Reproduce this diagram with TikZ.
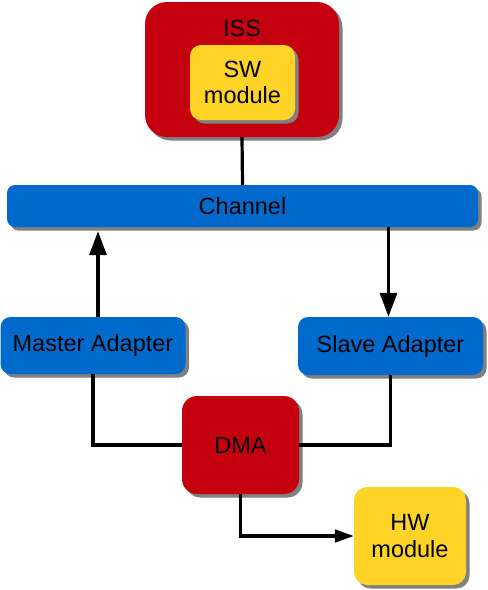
\documentclass[tikz,border=0pt]{standalone}
\usepackage{fontspec}
\setmainfont{Liberation Sans}
\usetikzlibrary{shadows,arrows.meta}
\definecolor{boxred}{RGB}{196,0,15}
\definecolor{boxyellow}{RGB}{255,212,38}
\definecolor{boxblue}{RGB}{0,106,204}
\definecolor{shadowgray}{RGB}{128,128,128}
\tikzset{
  box/.style={draw=none, inner sep=0pt, align=center,
    font=\fontsize{23.5}{26.5}\selectfont,
    drop shadow={shadow xshift=3.5pt, shadow yshift=-3.5pt, fill=shadowgray, opacity=1}},
  redbox/.style={box, fill=boxred},
  yellowbox/.style={box, fill=boxyellow},
  bluebox/.style={box, fill=boxblue},
  wire/.style={line width=3.2pt},
  bigarrow/.style={wire, -{Triangle[length=24pt,width=17pt]}},
  smallarrow/.style={wire, -{Triangle[length=19pt,width=12.5pt]}},
  lbl/.style={font=\fontsize{23.5}{26.5}\selectfont, inner sep=0pt}
}
\begin{document}
\begin{tikzpicture}[x=1pt,y=-1pt]
\useasboundingbox (0,0) rectangle (488,590);
\node[redbox, minimum width=194pt, minimum height=135pt, rounded corners=22pt] (iss) at (242,69.5) {};
\node[lbl] (isslbl) at (242,28) {ISS};
\node[yellowbox, minimum width=105pt, minimum height=75pt, rounded corners=11pt] (sw) at (242.5,82.5) {SW\\module};
\node[bluebox, minimum width=471pt, minimum height=42pt, rounded corners=8pt] (channel) at (242.5,206) {Channel};
\node[bluebox, minimum width=185pt, minimum height=57pt, rounded corners=10pt] (master) at (93,345.5) {Master Adapter};
\node[bluebox, minimum width=185pt, minimum height=58pt, rounded corners=10pt] (slave) at (390.5,346) {Slave Adapter};
\node[redbox, minimum width=117pt, minimum height=98pt, rounded corners=15pt] (dma) at (240.5,445) {DMA};
\node[yellowbox, minimum width=112pt, minimum height=98pt, rounded corners=13pt] (hw) at (410,536) {HW\\module};
\draw[wire] (iss.south) -- (channel.north);
\draw[bigarrow] ([xshift=5pt]master.north) -- ([xshift=5pt,yshift=-4pt]master.north |- channel.south);
\draw[bigarrow] ([xshift=-2pt]slave.north |- channel.south) -- ([xshift=-2pt]slave.north);
\draw[wire] (master.south) |- (dma.west);
\draw[wire] (slave.south) |- (dma.east);
\draw[smallarrow] (dma.south) |- (hw.west);
\end{tikzpicture}
\end{document}
